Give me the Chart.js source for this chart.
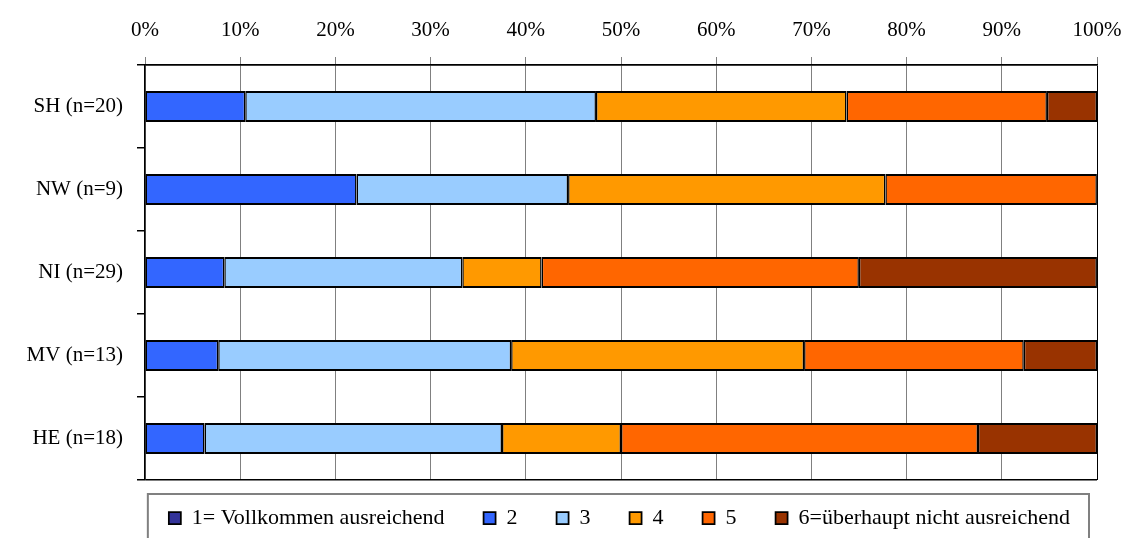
<!DOCTYPE html>
<html><head><meta charset="utf-8">
<script src="https://cdn.jsdelivr.net/npm/chart.js@4"></script>
<style>html,body{margin:0;padding:0;background:#fff}#wrap{width:1125px;height:538px;position:relative}</style>
</head><body><div id="wrap"><canvas id="c"></canvas></div>
<script>
const categories = ['SH (n=20)', 'NW (n=9)', 'NI (n=29)', 'MV (n=13)', 'HE (n=18)'];
const seriesNames = ['1= Vollkommen ausreichend', '2', '3', '4', '5', '6=überhaupt nicht ausreichend'];
const s1 = [0, 0, 0, 0, 0];
const s2 = [10.53, 22.22, 8.33, 7.69, 6.25];
const s3 = [36.84, 22.22, 25.00, 30.77, 31.25];
const s4 = [26.32, 33.33, 8.33, 30.77, 12.50];
const s5 = [21.05, 22.22, 33.33, 23.08, 37.50];
const s6 = [5.26, 0, 25.00, 7.69, 12.50];
const tickValues = [0, 10, 20, 30, 40, 50, 60, 70, 80, 90, 100];
const colors = ['#333399', '#3366FF', '#99CCFF', '#FF9900', '#FF6600', '#993300'];

const FONT = "'Liberation Serif', 'Times New Roman', serif";
const seriesData = [s1, s2, s3, s4, s5, s6];

const legendFrame = {
  id: 'legendFrame',
  afterDraw(chart) {
    const lg = chart.legend;
    if (!lg || !lg.legendHitBoxes || !lg.legendHitBoxes.length) return;
    const hb = lg.legendHitBoxes;
    const left = Math.min(...hb.map(h => h.left)) - 21;
    const right = Math.max(...hb.map(h => h.left + h.width)) + 19;
    const top = hb[0].top - 13;
    const ctx = chart.ctx;
    ctx.save();
    ctx.strokeStyle = '#808080';
    ctx.lineWidth = 2;
    ctx.strokeRect(left, top, right - left, 100);
    ctx.restore();
  }
};

new Chart(document.getElementById('c'), {
  type: 'bar',
  data: {
    labels: categories,
    datasets: seriesData.map((d, i) => ({
      label: seriesNames[i],
      data: d,
      backgroundColor: colors[i],
      borderColor: '#000',
      borderWidth: {top: 2, bottom: 2, left: 1.5, right: 1.5},
      borderSkipped: false,
      categoryPercentage: 1,
      barPercentage: 0.375
    }))
  },
  options: {
    indexAxis: 'y',
    responsive: true,
    maintainAspectRatio: false,
    animation: false,
    devicePixelRatio: 1,
    layout: {padding: {top: 0, left: 10, right: 16, bottom: -1}},
    scales: {
      x: {
        position: 'top',
        stacked: true,
        min: 0, max: 100,
        afterBuildTicks: s => { s.ticks = tickValues.map(v => ({value: v})); },
        afterFit: s => { s.height = 65; s.paddingLeft = 0; s.paddingRight = 28; },
        ticks: {
          color: '#000',
          padding: 14,
          maxRotation: 0,
          font: {family: FONT, size: 21},
          callback: v => v + '%'
        },
        grid: {
          color: c => (c.tick && c.tick.value === 100) ? '#000' : '#808080',
          tickColor: '#808080',
          lineWidth: 1,
          tickLength: 8
        },
        border: {display: true, color: '#000', width: 1.5}
      },
      y: {
        stacked: true,
        afterFit: s => { s.width = 135; },
        ticks: {
          color: '#000',
          padding: 14,
          font: {family: FONT, size: 21}
        },
        grid: {
          offset: true,
          drawOnChartArea: true,
          color: c => (c.index === 0 || c.index === undefined) ? '#000' : 'rgba(0,0,0,0)',
          tickColor: '#000',
          lineWidth: 1.5,
          tickLength: 8
        },
        border: {display: true, color: '#000', width: 1.5}
      }
    },
    plugins: {
      tooltip: {enabled: false},
      legend: {
        position: 'bottom',
        fullSize: true,
        align: 'end',
        title: {display: true, text: '', font: {size: 1, lineHeight: 1}, padding: {top: -13, bottom: 0}},
        labels: {
          color: '#000',
          boxWidth: 12,
          boxHeight: 12,
          padding: 39,
          font: {family: FONT, size: 22}
        }
      }
    }
  },
  plugins: [legendFrame]
});
</script>
</body></html>
